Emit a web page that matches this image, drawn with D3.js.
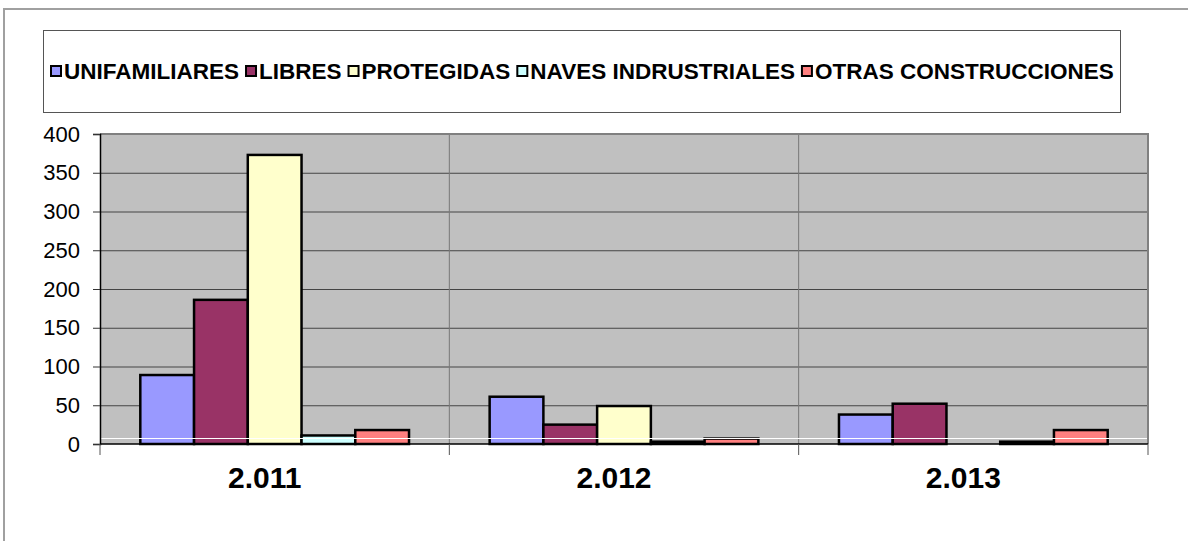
<!DOCTYPE html>
<html lang="es">
<head>
<meta charset="utf-8">
<title>Viviendas por tipo</title>
<script src="https://d3js.org/d3.v7.min.js"></script>
<style>
  body { margin: 0; background: #fff; }
  svg text { font-family: "Liberation Sans", Arial, sans-serif; fill: #000; }
</style>
</head>
<body>
<div id="chart"></div>
<script>
// data
var years = ["2.011", "2.012", "2.013"];
var series = ["UNIFAMILIARES", "LIBRES", "PROTEGIDAS", "NAVES INDRUSTRIALES", "OTRAS CONSTRUCCIONES"];
var colors = ["#9999FF", "#993366", "#FFFFCC", "#CCFFFF", "#FF8080"];
var unifamiliares = [89, 61, 38];
var libres = [186, 25, 52];
var protegidas = [373, 49, 0];
var naves = [11, 3, 3];
var otras = [18, 7, 18];
var yTicks = [0, 50, 100, 150, 200, 250, 300, 350, 400];

var values = [unifamiliares, libres, protegidas, naves, otras];

var width = 1188, height = 541,
    plot = {left: 100, right: 1148, top: 134, bottom: 444};

var svg = d3.select("#chart").append("svg")
    .attr("width", width)
    .attr("height", height);

// outer chart frame (only top and left edges visible)
svg.append("path")
    .attr("d", "M4,541V9H1188")
    .attr("fill", "none")
    .attr("stroke", "#a0a0a0")
    .attr("stroke-width", 2);

// legend box
var legend = svg.append("g");
legend.append("rect")
    .attr("x", 43.5).attr("y", 30.5)
    .attr("width", 1077).attr("height", 82)
    .attr("fill", "#fff")
    .attr("stroke", "#555")
    .attr("stroke-width", 1);

var lx = 50;
series.forEach(function(s, i) {
    legend.append("rect")
        .attr("x", lx + 1).attr("y", 66)
        .attr("width", 10).attr("height", 10)
        .attr("fill", colors[i])
        .attr("stroke", "#000")
        .attr("stroke-width", 2);
    var t = legend.append("text")
        .attr("x", lx + 14).attr("y", 79)
        .attr("font-size", 22.5)
        .attr("font-weight", "bold")
        .text(s);
    lx += 14 + t.node().getComputedTextLength() + 6;
});

// scales
var x0 = d3.scaleBand().domain(years).range([plot.left, plot.right]);
var x1 = d3.scaleBand().domain(series).range([0, x0.bandwidth()]).paddingOuter(0.75);
var y = d3.scaleLinear().domain([0, 400]).range([plot.bottom, plot.top]);

// plot background
svg.append("rect")
    .attr("x", plot.left).attr("y", plot.top)
    .attr("width", plot.right - plot.left).attr("height", plot.bottom - plot.top)
    .attr("fill", "#c0c0c0");

// horizontal gridlines
svg.append("g")
    .attr("transform", "translate(" + plot.left + ",0)")
    .call(d3.axisLeft(y).tickValues(yTicks.slice(1, -1)).tickSize(-(plot.right - plot.left)).tickFormat(""))
    .call(function(g) {
        g.select(".domain").remove();
        g.selectAll("line").attr("stroke", "#444").attr("stroke-width", 1);
    });

// vertical category separators
svg.append("g").selectAll("line")
    .data(years.slice(1))
    .enter().append("line")
    .attr("x1", function(d) { return x0(d); })
    .attr("x2", function(d) { return x0(d); })
    .attr("y1", plot.top).attr("y2", plot.bottom)
    .attr("stroke", "#777").attr("stroke-width", 1);

// plot border top and right
svg.append("path")
    .attr("d", "M" + plot.left + "," + plot.top + "H" + plot.right + "V" + plot.bottom)
    .attr("fill", "none")
    .attr("stroke", "#808080")
    .attr("stroke-width", 2);

// bars
var groups = svg.append("g").selectAll("g")
    .data(years)
    .enter().append("g")
    .attr("transform", function(d) { return "translate(" + x0(d) + ",0)"; });

groups.selectAll("rect")
    .data(function(d, j) { return series.map(function(s, i) { return {s: s, i: i, v: values[i][j]}; }); })
    .enter().append("rect")
    .filter(function(d) { return d.v > 0; })
    .attr("x", function(d) { return x1(d.s); })
    .attr("width", x1.bandwidth())
    .attr("y", function(d) { return y(d.v); })
    .attr("height", function(d) { return y(0) - y(d.v); })
    .attr("fill", function(d) { return colors[d.i]; })
    .attr("stroke", "#000")
    .attr("stroke-width", 2.5);

// thin white floor line over the bars
svg.append("line")
    .attr("x1", plot.left + 1).attr("x2", plot.right - 1)
    .attr("y1", 438.5).attr("y2", 438.5)
    .attr("stroke", "#fff").attr("stroke-width", 1);

// y axis
svg.append("g")
    .attr("transform", "translate(" + plot.left + ",0)")
    .call(d3.axisLeft(y).tickValues(yTicks).tickSize(7).tickPadding(13))
    .call(function(g) {
        g.select(".domain").attr("stroke", "#000").attr("stroke-width", 1.5);
        g.selectAll("line").attr("stroke", "#333");
        g.selectAll("text")
            .attr("font-size", 22)
            .attr("font-family", "Liberation Sans, Arial, sans-serif")
            .attr("fill", "#000");
    });

// x axis line and boundary ticks
svg.append("line")
    .attr("x1", plot.left).attr("x2", plot.right)
    .attr("y1", plot.bottom).attr("y2", plot.bottom)
    .attr("stroke", "#000").attr("stroke-width", 1.5);

svg.append("g").selectAll("line")
    .data(years.map(function(d) { return x0(d); }).concat([plot.right]))
    .enter().append("line")
    .attr("x1", function(d) { return d; }).attr("x2", function(d) { return d; })
    .attr("y1", plot.bottom).attr("y2", plot.bottom + 11)
    .attr("stroke", "#555").attr("stroke-width", 1);

svg.append("g")
    .attr("transform", "translate(0," + plot.bottom + ")")
    .call(d3.axisBottom(x0).tickSize(0).tickPadding(24))
    .call(function(g) {
        g.select(".domain").remove();
        g.selectAll("text")
            .attr("font-size", 30)
            .attr("font-weight", "bold")
            .attr("dx", -10)
            .attr("dy", "0.65em")
            .attr("font-family", "Liberation Sans, Arial, sans-serif")
            .attr("fill", "#000");
    });
</script>
</body>
</html>
